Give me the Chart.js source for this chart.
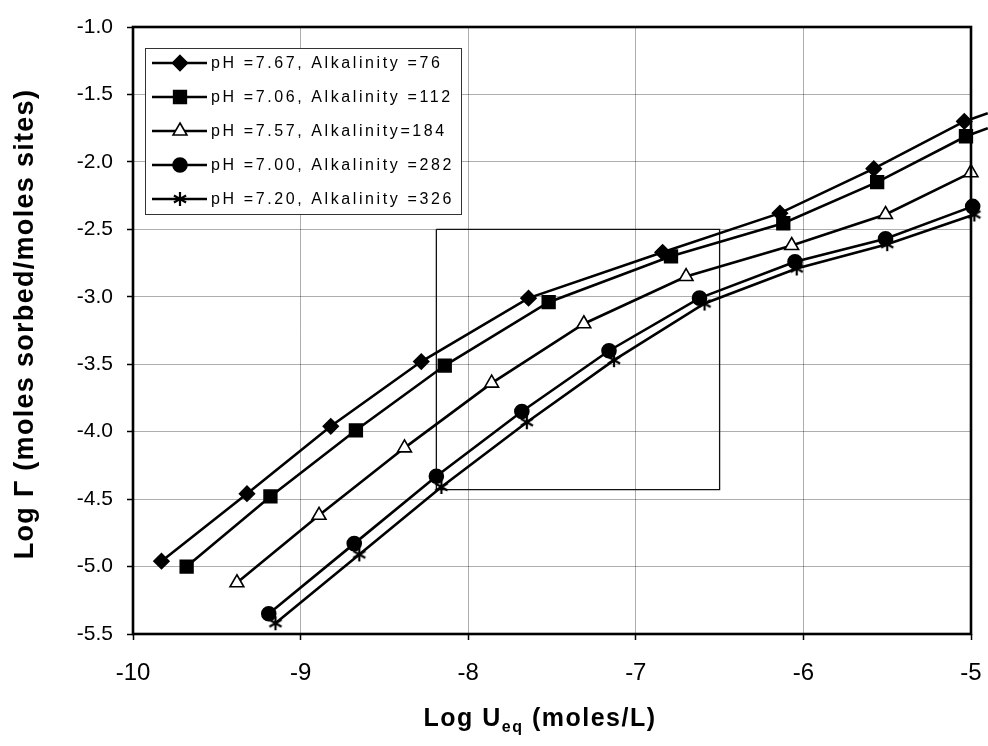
<!DOCTYPE html>
<html>
<head>
<meta charset="utf-8">
<script src="https://cdn.jsdelivr.net/npm/chart.js@4.4.1/dist/chart.umd.min.js"></script>
<style>
html,body{margin:0;padding:0;background:#fff;}
#wrap{width:988px;height:746px;}
</style>
</head>
<body>
<div id="wrap"><canvas id="c" width="988" height="746"></canvas></div>
<script>
// ---- data ----
const seriesLabels = [
  'pH =7.67, Alkalinity =76',
  'pH =7.06, Alkalinity =112',
  'pH =7.57, Alkalinity=184',
  'pH =7.00, Alkalinity =282',
  'pH =7.20, Alkalinity =326'
];
const s1X = [-9.83, -9.32, -8.82, -8.28, -7.64, -6.84, -6.14, -5.58, -5.04, -4.90];
const s1Y = [-4.96, -4.46, -3.96, -3.48, -3.01, -2.67, -2.38, -2.05, -1.70, -1.64];
const s2X = [-9.68, -9.18, -8.67, -8.14, -7.52, -6.79, -6.12, -5.56, -5.03, -4.90];
const s2Y = [-5.00, -4.48, -3.99, -3.51, -3.04, -2.70, -2.455, -2.15, -1.81, -1.75];
const s3X = [-9.38, -8.89, -8.38, -7.86, -7.31, -6.70, -6.07, -5.51, -5.00, -4.90];
const s3Y = [-5.12, -4.62, -4.12, -3.64, -3.20, -2.85, -2.62, -2.39, -2.08, -2.01];
const s4X = [-9.19, -8.68, -8.19, -7.68, -7.16, -6.62, -6.05, -5.51, -4.99, -4.90];
const s4Y = [-5.35, -4.83, -4.33, -3.85, -3.40, -3.01, -2.74, -2.57, -2.33, -2.27];
const s5X = [-9.15, -8.65, -8.16, -7.65, -7.13, -6.59, -6.04, -5.50, -4.98, -4.90];
const s5Y = [-5.42, -4.91, -4.41, -3.93, -3.47, -3.05, -2.79, -2.61, -2.39, -2.34];
// highlighted rectangle (corners)
const boxX = [-8.19, -6.50, -6.50, -8.19, -8.19];
const boxY = [-2.50, -2.50, -4.43, -4.43, -2.50];
const xTicks = [-10, -9, -8, -7, -6, -5];
const yTicks = [-1.0, -1.5, -2.0, -2.5, -3.0, -3.5, -4.0, -4.5, -5.0, -5.5];
const xTitle = ['Log U', 'eq', ' (moles/L)'];
const yTitle = 'Log \u0393 (moles sorbed/moles sites)';

// ---- asterisk marker image ----
function makeStar(size){
  const cv = document.createElement('canvas');
  cv.width = size; cv.height = size;
  const c = cv.getContext('2d');
  c.strokeStyle = '#000'; c.lineWidth = 2.2; c.lineCap = 'butt';
  const m = size/2, r = size/2 - 1;
  c.beginPath();
  c.moveTo(m, m - r); c.lineTo(m, m + r);
  const a = Math.PI/6;
  c.moveTo(m - r*Math.cos(a), m - r*Math.sin(a)); c.lineTo(m + r*Math.cos(a), m + r*Math.sin(a));
  c.moveTo(m - r*Math.cos(a), m + r*Math.sin(a)); c.lineTo(m + r*Math.cos(a), m - r*Math.sin(a));
  c.stroke();
  return cv;
}
const starImg = makeStar(16);

function pts(xs, ys){ return xs.map((x,i)=>({x:x, y:ys[i]})); }
function radii(n, r){ const a = new Array(n).fill(r); a[n-1] = 0; return a; }

const styles = [
  {pointStyle:'rectRot', radius:7.5, bg:'#000'},
  {pointStyle:'rect', radius:9, bg:'#000'},
  {pointStyle:'triangle', radius:8, bg:'#fff'},
  {pointStyle:'circle', radius:7, bg:'#000'},
  {pointStyle:starImg, radius:8, bg:'#000'}
];
const xs = [s1X, s2X, s3X, s4X, s5X];
const ys = [s1Y, s2Y, s3Y, s4Y, s5Y];

const datasets = xs.map((xx, i) => ({
  label: seriesLabels[i],
  data: pts(xx, ys[i]),
  borderColor: '#000',
  backgroundColor: styles[i].bg,
  borderWidth: 2.6,
  pointStyle: styles[i].pointStyle,
  pointRadius: radii(xx.length, styles[i].radius),
  pointBorderColor: '#000',
  pointBackgroundColor: styles[i].bg,
  pointBorderWidth: 1.6,
  tension: 0,
  clip: false
}));
datasets.push({
  label: 'box',
  data: pts(boxX, boxY),
  borderColor: '#111',
  borderWidth: 1.3,
  pointRadius: 0,
  tension: 0,
  clip: false
});

function drawMarker(ctx, i, x, y){
  const s = styles[i];
  ctx.save();
  ctx.fillStyle = s.bg; ctx.strokeStyle = '#000'; ctx.lineWidth = 1.6;
  ctx.beginPath();
  if (i === 0){
    const r = s.radius;
    ctx.moveTo(x, y - r); ctx.lineTo(x + r, y); ctx.lineTo(x, y + r); ctx.lineTo(x - r, y); ctx.closePath();
    ctx.fill(); ctx.stroke();
  } else if (i === 1){
    const h = s.radius * Math.SQRT1_2;
    ctx.rect(x - h, y - h, 2*h, 2*h); ctx.fill(); ctx.stroke();
  } else if (i === 2){
    const r = s.radius;
    for (let k=0;k<3;k++){
      const ang = -Math.PI/2 + k*2*Math.PI/3;
      const px = x + r*Math.cos(ang), py = y + r*Math.sin(ang);
      if (k===0) ctx.moveTo(px,py); else ctx.lineTo(px,py);
    }
    ctx.closePath(); ctx.fill(); ctx.stroke();
  } else if (i === 3){
    ctx.arc(x, y, s.radius, 0, Math.PI*2); ctx.fill(); ctx.stroke();
  } else {
    ctx.drawImage(starImg, x - 8, y - 8);
  }
  ctx.restore();
}

const framePlugin = {
  id: 'frameAndLegend',
  afterDraw(chart){
    const ctx = chart.ctx, a = chart.chartArea;
    ctx.save();
    // frame
    ctx.strokeStyle = '#000'; ctx.lineWidth = 2.6;
    ctx.strokeRect(a.left, a.top, a.right - a.left, a.bottom - a.top);
    // legend box
    const lx = 145, ly = 48, lw = 316, lh = 166;
    ctx.fillStyle = '#fff'; ctx.fillRect(lx, ly, lw, lh);
    ctx.strokeStyle = '#333'; ctx.lineWidth = 1;
    ctx.strokeRect(lx + 0.5, ly + 0.5, lw, lh);
    ctx.font = '16px "Liberation Sans", Arial, sans-serif';
    if ('letterSpacing' in ctx) ctx.letterSpacing = '2.6px';
    ctx.fillStyle = '#000'; ctx.textBaseline = 'middle'; ctx.textAlign = 'left';
    for (let i = 0; i < seriesLabels.length; i++){
      const y = 63 + i*34;
      ctx.strokeStyle = '#000'; ctx.lineWidth = 2.6;
      ctx.beginPath(); ctx.moveTo(152, y); ctx.lineTo(207, y); ctx.stroke();
      drawMarker(ctx, i, 180, y);
      ctx.fillStyle = '#000';
      ctx.fillText(seriesLabels[i], 211, y + 1);
    }
    // x axis title with subscript
    if ('letterSpacing' in ctx) ctx.letterSpacing = '1.5px';
    const big = 'bold 25px "Liberation Sans", Arial, sans-serif';
    const small = 'bold 16px "Liberation Sans", Arial, sans-serif';
    ctx.font = big; const w1 = ctx.measureText(xTitle[0]).width; const w3 = ctx.measureText(xTitle[2]).width;
    ctx.font = small; const w2 = ctx.measureText(xTitle[1]).width;
    const tot = w1 + w2 + w3;
    let tx = 540 - tot/2;
    const ty = 726;
    ctx.textBaseline = 'alphabetic';
    ctx.font = big; ctx.fillText(xTitle[0], tx, ty); tx += w1;
    ctx.font = small; ctx.fillText(xTitle[1], tx, ty + 6); tx += w2;
    ctx.font = big; ctx.fillText(xTitle[2], tx, ty);
    // y axis title (rotated)
    if ('letterSpacing' in ctx) ctx.letterSpacing = '1.3px';
    ctx.font = 'bold 27px "Liberation Sans", Arial, sans-serif';
    ctx.translate(33, 324);
    ctx.rotate(-Math.PI/2);
    ctx.textAlign = 'center';
    ctx.fillText(yTitle, 0, 0);
    ctx.restore();
  }
};

new Chart(document.getElementById('c'), {
  type: 'line',
  data: { datasets: datasets },
  options: {
    responsive: false,
    animation: false,
    layout: { padding: { left: 0, right: 17, top: 27, bottom: 0 } },
    plugins: { legend: { display: false }, tooltip: { enabled: false } },
    scales: {
      x: {
        type: 'linear', min: -10, max: -5,
        afterFit(s){ s.height = 112; s.paddingLeft = 0; s.paddingRight = 0; },
        afterBuildTicks(s){ s.ticks = xTicks.map(v => ({value: v})); },
        border: { display: false },
        grid: { color: 'rgba(0,0,0,0.32)', borderDash: [1, 5], lineWidth: 1,
                drawTicks: true, tickLength: 6, tickColor: '#000', tickBorderDash: [], tickWidth: 1.5 },
        ticks: { padding: 19, color: '#000', maxRotation: 0,
                 font: { family: '"Liberation Sans", Arial, sans-serif', size: 24 },
                 callback: v => String(v) }
      },
      y: {
        type: 'linear', min: -5.5, max: -1.0,
        afterFit(s){ s.width = 133; s.paddingTop = 0; s.paddingBottom = 0; },
        afterBuildTicks(s){ s.ticks = yTicks.map(v => ({value: v})); },
        border: { display: false },
        grid: { color: 'rgba(0,0,0,0.32)', borderDash: [1, 5], lineWidth: 1,
                drawTicks: true, tickLength: 6, tickColor: '#000', tickBorderDash: [], tickWidth: 1.5 },
        ticks: { padding: 14, color: '#000',
                 font: { family: '"Liberation Sans", Arial, sans-serif', size: 21 },
                 callback: v => Number(v).toFixed(1) },
        title: { display: false, text: yTitle }
      }
    }
  },
  plugins: [framePlugin]
});
</script>
</body>
</html>
